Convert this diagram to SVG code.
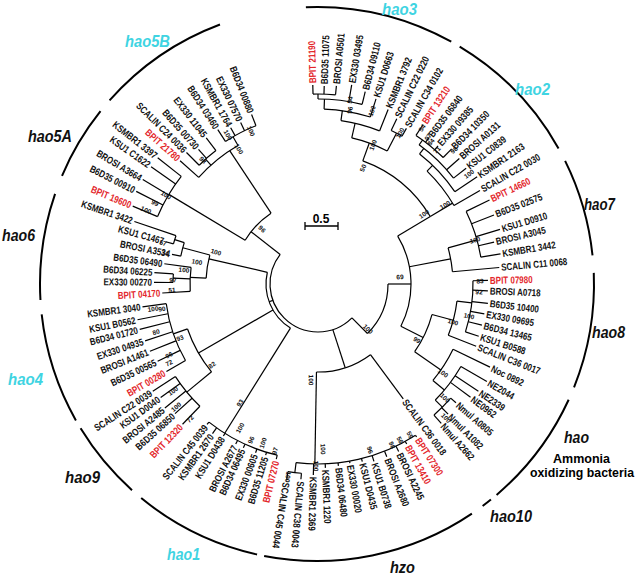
<svg xmlns="http://www.w3.org/2000/svg" width="637" height="578" viewBox="0 0 637 578">
<style>
.t{font-family:"Liberation Sans",Arial,sans-serif;font-size:10px;font-weight:bold;fill:#111}
.r{fill:#e3262b}
.e{text-anchor:end}
.bs{font-family:"Liberation Sans",Arial,sans-serif;font-size:6.5px;font-weight:bold;fill:#111;text-anchor:middle}
.cl{font-family:"Liberation Sans",Arial,sans-serif;font-weight:bold;font-style:italic;font-size:17px;fill:#111}
.cy{fill:#3fd4e2}
.br line,.br circle{fill:none;stroke:#000;stroke-width:1.2}
.ca circle{fill:none;stroke:#000;stroke-width:2}
</style>
<rect width="637" height="578" fill="#fff"/>
<g id="connectors" class="br" transform="translate(318,284)">
<circle r="48" pathLength="360" stroke-dasharray="173 400" transform="rotate(45)"/>
<circle r="52" pathLength="360" stroke-dasharray="71 400" transform="rotate(122)"/>
<line x1="48" x2="52" transform="rotate(160)"/>
<line x1="48" x2="70" transform="rotate(45)"/>
<circle r="70" pathLength="360" stroke-dasharray="45 400" transform="rotate(0)"/>
<line x1="70" x2="93" transform="rotate(0)"/>
<circle r="93" pathLength="360" stroke-dasharray="58 400" transform="rotate(329)"/>
<line x1="93" x2="131" transform="rotate(329)"/>
<circle r="131" pathLength="360" stroke-dasharray="39 400" transform="rotate(290)"/>
<line x1="131" x2="150" transform="rotate(290)"/>
<circle r="150" pathLength="360" stroke-dasharray="14.5 400" transform="rotate(283)"/>
<line x1="150" x2="170" transform="rotate(297.5)"/>
<circle r="170" pathLength="360" stroke-dasharray="4.1 400" transform="rotate(295.5)"/>
<line x1="170" x2="183" transform="rotate(295.5)"/><line x1="170" x2="179" transform="rotate(299.6)"/>
<line x1="150" x2="165" transform="rotate(283)"/>
<circle r="165" pathLength="360" stroke-dasharray="13.9 400" transform="rotate(278)"/>
<line x1="165" x2="188" transform="rotate(291.9)"/>
<line x1="165" x2="175" transform="rotate(278)"/>
<circle r="175" pathLength="360" stroke-dasharray="15.4 400" transform="rotate(272)"/>
<line x1="175" x2="194" transform="rotate(287.4)"/>
<line x1="175" x2="185" transform="rotate(272)"/>
<circle r="185" pathLength="360" stroke-dasharray="13.8 400" transform="rotate(270)"/>
<line x1="185" x2="198" transform="rotate(283.8)"/><line x1="185" x2="202" transform="rotate(279.6)"/>
<line x1="185" x2="190" transform="rotate(270)"/>
<circle r="190" pathLength="360" stroke-dasharray="6.8 400" transform="rotate(268.5)"/>
<line x1="190" x2="199" transform="rotate(268.5)"/><line x1="190" x2="198" transform="rotate(271.8)"/><line x1="190" x2="199" transform="rotate(275.3)"/>
<line x1="131" x2="157" transform="rotate(329)"/>
<circle r="157" pathLength="360" stroke-dasharray="16 400" transform="rotate(314)"/>
<line x1="157" x2="187" transform="rotate(330)"/>
<line x1="157" x2="165" transform="rotate(314)"/>
<circle r="165" pathLength="360" stroke-dasharray="18 400" transform="rotate(308)"/>
<line x1="165" x2="192" transform="rotate(326)"/>
<line x1="165" x2="172" transform="rotate(308)"/>
<circle r="172" pathLength="360" stroke-dasharray="16 400" transform="rotate(306)"/>
<line x1="172" x2="188" transform="rotate(322)"/><line x1="172" x2="189" transform="rotate(318.4)"/>
<line x1="172" x2="178" transform="rotate(306)"/>
<circle r="178" pathLength="360" stroke-dasharray="11.3 400" transform="rotate(303.4)"/>
<line x1="178" x2="191" transform="rotate(303.4)"/><line x1="178" x2="184" transform="rotate(307.2)"/><line x1="178" x2="183" transform="rotate(311)"/><line x1="178" x2="190" transform="rotate(314.7)"/>
<line x1="93" x2="135" transform="rotate(349.3)"/>
<circle r="135" pathLength="360" stroke-dasharray="10.3 400" transform="rotate(344.5)"/>
<line x1="135" x2="182" transform="rotate(354.8)"/>
<line x1="135" x2="165" transform="rotate(344.5)"/>
<circle r="165" pathLength="360" stroke-dasharray="16.7 400" transform="rotate(333.9)"/>
<line x1="165" x2="191" transform="rotate(333.9)"/><line x1="165" x2="189" transform="rotate(338.6)"/><line x1="165" x2="190" transform="rotate(343.3)"/><line x1="165" x2="181" transform="rotate(346.6)"/><line x1="165" x2="185" transform="rotate(350.6)"/>
<line x1="93" x2="118" transform="rotate(27)"/>
<circle r="118" pathLength="360" stroke-dasharray="20 400" transform="rotate(15)"/>
<line x1="118" x2="140" transform="rotate(15)"/>
<circle r="140" pathLength="360" stroke-dasharray="14.5 400" transform="rotate(7)"/>
<line x1="140" x2="170" transform="rotate(21.5)"/>
<line x1="140" x2="155" transform="rotate(7)"/>
<circle r="155" pathLength="360" stroke-dasharray="19.2 400" transform="rotate(358.8)"/>
<line x1="155" x2="170" transform="rotate(358.8)"/><line x1="155" x2="170" transform="rotate(2.3)"/><line x1="155" x2="171" transform="rotate(6.5)"/><line x1="155" x2="169" transform="rotate(10.2)"/><line x1="155" x2="169" transform="rotate(14.1)"/><line x1="155" x2="169" transform="rotate(18)"/>
<line x1="118" x2="150" transform="rotate(35)"/>
<circle r="150" pathLength="360" stroke-dasharray="14.2 400" transform="rotate(25.8)"/>
<line x1="150" x2="191" transform="rotate(25.8)"/>
<line x1="150" x2="165" transform="rotate(40)"/>
<circle r="165" pathLength="360" stroke-dasharray="14.7 400" transform="rotate(30)"/>
<line x1="165" x2="195" transform="rotate(30)"/><line x1="165" x2="193" transform="rotate(33.8)"/><line x1="165" x2="190" transform="rotate(36.6)"/>
<line x1="165" x2="175" transform="rotate(44.7)"/>
<circle r="175" pathLength="360" stroke-dasharray="7.8 400" transform="rotate(40.7)"/>
<line x1="175" x2="182" transform="rotate(40.7)"/><line x1="175" x2="184" transform="rotate(45)"/><line x1="175" x2="186" transform="rotate(48.5)"/>
<line x1="48" x2="88" transform="rotate(72)"/>
<circle r="88" pathLength="360" stroke-dasharray="37.6 400" transform="rotate(53.4)"/>
<line x1="88" x2="143" transform="rotate(53.4)"/>
<line x1="88" x2="180" transform="rotate(91)"/>
<circle r="180" pathLength="360" stroke-dasharray="39.8 400" transform="rotate(57.2)"/>
<line x1="180" x2="182" transform="rotate(57.2)"/><line x1="180" x2="183" transform="rotate(61)"/><line x1="180" x2="186" transform="rotate(64.3)"/><line x1="180" x2="186" transform="rotate(68.3)"/><line x1="180" x2="186" transform="rotate(72.5)"/><line x1="180" x2="183" transform="rotate(76)"/><line x1="180" x2="182" transform="rotate(79.9)"/><line x1="180" x2="183" transform="rotate(83.6)"/><line x1="180" x2="184" transform="rotate(87.7)"/><line x1="180" x2="191" transform="rotate(91.4)"/>
<line x1="180" x2="190" transform="rotate(97)"/>
<circle r="190" pathLength="360" stroke-dasharray="4.1 400" transform="rotate(95)"/>
<line x1="190" x2="196" transform="rotate(95)"/><line x1="190" x2="199" transform="rotate(99.1)"/>
<line x1="52" x2="176" transform="rotate(122)"/>
<circle r="176" pathLength="360" stroke-dasharray="24.9 400" transform="rotate(103.4)"/>
<line x1="176" x2="180" transform="rotate(103.4)"/><line x1="176" x2="179" transform="rotate(107)"/><line x1="176" x2="180" transform="rotate(110.3)"/><line x1="176" x2="180" transform="rotate(114.5)"/><line x1="176" x2="180" transform="rotate(117.2)"/><line x1="176" x2="179" transform="rotate(121.9)"/><line x1="176" x2="183" transform="rotate(125.2)"/><line x1="176" x2="179" transform="rotate(128.3)"/>
<line x1="52" x2="138" transform="rotate(150)"/>
<circle r="138" pathLength="360" stroke-dasharray="20.5 400" transform="rotate(140.5)"/>
<line x1="138" x2="170" transform="rotate(140.5)"/>
<circle r="170" pathLength="360" stroke-dasharray="13 400" transform="rotate(134)"/>
<line x1="170" x2="195" transform="rotate(134)"/><line x1="170" x2="193" transform="rotate(137.8)"/><line x1="170" x2="197" transform="rotate(141)"/><line x1="170" x2="194" transform="rotate(144.2)"/><line x1="170" x2="197" transform="rotate(147)"/>
<line x1="138" x2="153" transform="rotate(161)"/>
<circle r="153" pathLength="360" stroke-dasharray="22.6 400" transform="rotate(150)"/>
<line x1="153" x2="175" transform="rotate(150)"/><line x1="153" x2="178" transform="rotate(154.3)"/><line x1="153" x2="181" transform="rotate(158.2)"/><line x1="153" x2="182" transform="rotate(161.8)"/><line x1="153" x2="184" transform="rotate(165.7)"/><line x1="153" x2="184" transform="rotate(168.8)"/><line x1="153" x2="177" transform="rotate(172.6)"/>
<line x1="52" x2="112" transform="rotate(193)"/>
<circle r="112" pathLength="360" stroke-dasharray="12 400" transform="rotate(183)"/>
<line x1="112" x2="140" transform="rotate(195)"/>
<circle r="140" pathLength="360" stroke-dasharray="5.7 400" transform="rotate(191.5)"/>
<line x1="140" x2="149" transform="rotate(191.5)"/>
<line x1="140" x2="150" transform="rotate(197.2)"/>
<circle r="150" pathLength="360" stroke-dasharray="3.3 400" transform="rotate(195.5)"/>
<line x1="150" x2="158" transform="rotate(195.5)"/><line x1="150" x2="194" transform="rotate(198.8)"/>
<line x1="112" x2="128" transform="rotate(183)"/>
<circle r="128" pathLength="360" stroke-dasharray="10.8 400" transform="rotate(176.7)"/>
<line x1="128" x2="156" transform="rotate(176.7)"/><line x1="128" x2="155" transform="rotate(187.5)"/>
<line x1="128" x2="145" transform="rotate(182.3)"/>
<circle r="145" pathLength="360" stroke-dasharray="3.4 400" transform="rotate(180.6)"/>
<line x1="145" x2="164" transform="rotate(180.6)"/><line x1="145" x2="164" transform="rotate(184)"/>
<line x1="48" x2="85" transform="rotate(218)"/>
<circle r="85" pathLength="360" stroke-dasharray="25.5 400" transform="rotate(211)"/>
<line x1="85" x2="174" transform="rotate(211)"/>
<circle r="174" pathLength="360" stroke-dasharray="15.4 400" transform="rotate(202.8)"/>
<line x1="174" x2="201" transform="rotate(202.8)"/><line x1="174" x2="204" transform="rotate(207)"/><line x1="174" x2="204" transform="rotate(210.8)"/><line x1="174" x2="204" transform="rotate(215.1)"/><line x1="174" x2="204" transform="rotate(218.2)"/>
<line x1="85" x2="160" transform="rotate(236.5)"/>
<circle r="160" pathLength="360" stroke-dasharray="18.2 400" transform="rotate(221.8)"/>
<line x1="160" x2="185" transform="rotate(221.8)"/>
<line x1="160" x2="168" transform="rotate(228)"/>
<circle r="168" pathLength="360" stroke-dasharray="7.6 400" transform="rotate(225)"/>
<line x1="168" x2="186" transform="rotate(225)"/><line x1="168" x2="180" transform="rotate(228.4)"/><line x1="168" x2="184" transform="rotate(232.6)"/>
<line x1="160" x2="170" transform="rotate(240)"/>
<circle r="170" pathLength="360" stroke-dasharray="11.6 400" transform="rotate(237)"/>
<line x1="170" x2="184" transform="rotate(237)"/><line x1="170" x2="179" transform="rotate(240.8)"/><line x1="170" x2="179" transform="rotate(244.4)"/><line x1="170" x2="182" transform="rotate(248.6)"/>
</g>
<g id="bootstrap">
<text class="bs" dy="2.3" transform="translate(262,229) rotate(44.5)">96</text>
<text class="bs" dy="2.3" transform="translate(216,252) rotate(16.4)">100</text>
<text class="bs" dy="2.3" transform="translate(166,195) rotate(30)">100</text>
<text class="bs" dy="2.3" transform="translate(146,210) rotate(23.3)">100</text>
<text class="bs" dy="2.3" transform="translate(155,203) rotate(26.4)">99</text>
<text class="bs" dy="2.3" transform="translate(400,277) rotate(-4.9)">69</text>
<text class="bs" dy="2.3" transform="translate(368,329) rotate(42)">100</text>
<text class="bs" dy="2.3" transform="translate(417,340) rotate(29.5)">99</text>
<text class="bs" dy="2.3" transform="translate(424,214) rotate(-33.4)">100</text>
<text class="bs" dy="2.3" transform="translate(445,205) rotate(-31.9)">100</text>
<text class="bs" dy="2.3" transform="translate(453,322) rotate(15.7)">100</text>
<text class="bs" dy="2.3" transform="translate(469,316) rotate(12)">100</text>
<text class="bs" dy="2.3" transform="translate(443,373) rotate(35.5)">100</text>
<text class="bs" dy="2.3" transform="translate(445,398) rotate(41.9)">100</text>
<text class="bs" dy="2.3" transform="translate(446,418) rotate(46.3)">100</text>
<text class="bs" dy="2.3" transform="translate(475,240) rotate(-15.7)">100</text>
<text class="bs" dy="2.3" transform="translate(480,281) rotate(-1)">83</text>
<text class="bs" dy="2.3" transform="translate(479,292) rotate(2.8)">92</text>
<text class="bs" dy="2.3" transform="translate(180,338) rotate(-21.4)">93</text>
<text class="bs" dy="2.3" transform="translate(162,309) rotate(-9.1)">90</text>
<text class="bs" dy="2.3" transform="translate(212,365) rotate(-37.4)">82</text>
<text class="bs" dy="2.3" transform="translate(153,309) rotate(-8.6)">100</text>
<text class="bs" dy="2.3" transform="translate(156,332) rotate(-16.5)">80</text>
<text class="bs" dy="2.3" transform="translate(169,355) rotate(-25.5)">96</text>
<text class="bs" dy="2.3" transform="translate(169,363) rotate(-28)">72</text>
<text class="bs" dy="2.3" transform="translate(173,391) rotate(-36.4)">100</text>
<text class="bs" dy="2.3" transform="translate(176,407) rotate(-41)">100</text>
<text class="bs" dy="2.3" transform="translate(190,419) rotate(-46.5)">72</text>
<text class="bs" dy="2.3" transform="translate(240,403) rotate(-56.8)">93</text>
<text class="bs" dy="2.3" transform="translate(240,428) rotate(-61.6)">100</text>
<text class="bs" dy="2.3" transform="translate(251,440) rotate(-66.8)">96</text>
<text class="bs" dy="2.3" transform="translate(263,443) rotate(-70.9)">100</text>
<text class="bs" dy="2.3" transform="translate(275,451) rotate(-75.6)">97</text>
<text class="bs" dy="2.3" transform="translate(288,477) rotate(98.8)">100</text>
<text class="bs" dy="2.3" transform="translate(316,466) rotate(90.6)">100</text>
<text class="bs" dy="2.3" transform="translate(323,449) rotate(88.3)">100</text>
<text class="bs" dy="2.3" transform="translate(311,380) rotate(90.6)">100</text>
<text class="bs" dy="2.3" transform="translate(370,450) rotate(72.6)">96</text>
<text class="bs" dy="2.3" transform="translate(392,445) rotate(65.3)">98</text>
<text class="bs" dy="2.3" transform="translate(400,440) rotate(62.3)">56</text>
<text class="bs" dy="2.3" transform="translate(410,435) rotate(58.6)">59</text>
<text class="bs" dy="2.3" transform="translate(363,168) rotate(-68.8)">50</text>
<text class="bs" dy="2.3" transform="translate(373,145) rotate(-68.4)">100</text>
<text class="bs" dy="2.3" transform="translate(350,100) rotate(-80.1)">54</text>
<text class="bs" dy="2.3" transform="translate(350,110) rotate(-79.6)">96</text>
<text class="bs" dy="2.3" transform="translate(372,111) rotate(-72.7)">100</text>
<text class="bs" dy="2.3" transform="translate(400,133) rotate(-61.5)">100</text>
<text class="bs" dy="2.3" transform="translate(422,128) rotate(-56.3)">54</text>
<text class="bs" dy="2.3" transform="translate(428,137) rotate(-53.2)">97</text>
<text class="bs" dy="2.3" transform="translate(431,142) rotate(-51.5)">84</text>
<text class="bs" dy="2.3" transform="translate(437,150) rotate(-48.4)">71</text>
<text class="bs" dy="2.3" transform="translate(454,150) rotate(-44.6)">98</text>
<text class="bs" dy="2.3" transform="translate(469,174) rotate(-36.1)">100</text>
<text class="bs" dy="2.3" transform="translate(251,131) rotate(66.4)">100</text>
<text class="bs" dy="2.3" transform="translate(228,135) rotate(58.9)">100</text>
<text class="bs" dy="2.3" transform="translate(239,149) rotate(59.7)">100</text>
<text class="bs" dy="2.3" transform="translate(203,160) rotate(47.1)">98</text>
<text class="bs" dy="2.3" transform="translate(173,280) rotate(1.6)">97</text>
<text class="bs" dy="2.3" transform="translate(172,290) rotate(-2.4)">51</text>
<text class="bs" dy="2.3" transform="translate(165,253) rotate(11.5)">34</text>
<text class="bs" dy="2.3" transform="translate(163,243) rotate(15.9)">57</text>
<text class="bs" dy="2.3" transform="translate(184,270) rotate(6)">100</text>
<text class="bs" dy="2.3" transform="translate(197,262) rotate(10.3)">100</text>
</g>
<g id="clade-arcs" class="ca" transform="translate(317,284)">
<circle r="277" pathLength="360" stroke-dasharray="28 400" transform="rotate(221.5)"/>
<circle r="277" pathLength="360" stroke-dasharray="15.6 400" transform="rotate(203)"/>
<circle r="277" pathLength="360" stroke-dasharray="22.3 400" transform="rotate(176.7)"/>
<circle r="277" pathLength="360" stroke-dasharray="23.2 400" transform="rotate(150.5)"/>
<circle r="277" pathLength="360" stroke-dasharray="16.7 400" transform="rotate(131.9)"/>
<circle r="277" pathLength="360" stroke-dasharray="26.9 400" transform="rotate(102.5)"/>
<circle r="277" pathLength="360" stroke-dasharray="45 400" transform="rotate(56)"/>
<circle r="277" pathLength="360" stroke-dasharray="2.2 400" transform="rotate(51.1)"/>
<circle r="277" pathLength="360" stroke-dasharray="24.9 400" transform="rotate(24.7)"/>
<circle r="277" pathLength="360" stroke-dasharray="24.2 400" transform="rotate(357.7)"/>
<circle r="277" pathLength="360" stroke-dasharray="20.5 400" transform="rotate(333.6)"/>
<circle r="277" pathLength="360" stroke-dasharray="29.7 400" transform="rotate(301)"/>
<circle r="277" pathLength="360" stroke-dasharray="31.3 400" transform="rotate(267.7)"/>
</g>
<g id="leaves" transform="translate(318,284)">
<g id="n1"><text class="t r" dy="3.5" transform="rotate(268.5) translate(201) scale(.8,1)">BPIT 21190</text></g>
<g id="n2"><text class="t" dy="3.5" transform="rotate(271.8) translate(200) scale(.8,1)">B6D35 11075</text></g>
<g id="n3"><text class="t" dy="3.5" transform="rotate(275.3) translate(201) scale(.8,1)">BROSI A0501</text></g>
<g id="n4"><text class="t" dy="3.5" transform="rotate(279.6) translate(204) scale(.8,1)">EX330 03495</text></g>
<g id="n5"><text class="t" dy="3.5" transform="rotate(283.8) translate(200) scale(.8,1)">B6D34 09110</text></g>
<g id="n6"><text class="t" dy="3.5" transform="rotate(287.4) translate(196) scale(.8,1)">KSU1 D0663</text></g>
<g id="n7"><text class="t" dy="3.5" transform="rotate(291.9) translate(190) scale(.8,1)">KSMBR1 3792</text></g>
<g id="n8"><text class="t" dy="3.5" transform="rotate(295.5) translate(185) scale(.8,1)">SCALIN C22 0220</text></g>
<g id="n9"><text class="t" dy="3.5" transform="rotate(299.6) translate(181) scale(.8,1)">SCALIN C34 0102</text></g>
<g id="n10"><text class="t r" dy="3.5" transform="rotate(303.4) translate(193) scale(.8,1)">BPIT 13210</text></g>
<g id="n11"><text class="t" dy="3.5" transform="rotate(307.2) translate(186) scale(.8,1)">B6D35 06840</text></g>
<g id="n12"><text class="t" dy="3.5" transform="rotate(311) translate(185) scale(.8,1)">EX330 09385</text></g>
<g id="n13"><text class="t" dy="3.5" transform="rotate(314.7) translate(192) scale(.8,1)">B6D34 10350</text></g>
<g id="n14"><text class="t" dy="3.5" transform="rotate(318.4) translate(191) scale(.8,1)">BROSI A0131</text></g>
<g id="n15"><text class="t" dy="3.5" transform="rotate(322) translate(190) scale(.8,1)">KSU1 C0839</text></g>
<g id="n16"><text class="t" dy="3.5" transform="rotate(326) translate(194) scale(.8,1)">KSMBR1 2163</text></g>
<g id="n17"><text class="t" dy="3.5" transform="rotate(330) translate(189) scale(.8,1)">SCALIN C22 0030</text></g>
<g id="n18"><text class="t r" dy="3.5" transform="rotate(333.9) translate(193) scale(.8,1)">BPIT 14660</text></g>
<g id="n19"><text class="t" dy="3.5" transform="rotate(338.6) translate(191) scale(.8,1)">B6D35 02575</text></g>
<g id="n20"><text class="t" dy="3.5" transform="rotate(343.3) translate(192) scale(.8,1)">KSU1 D0910</text></g>
<g id="n21"><text class="t" dy="3.5" transform="rotate(346.6) translate(183) scale(.8,1)">BROSI A3045</text></g>
<g id="n22"><text class="t" dy="3.5" transform="rotate(350.6) translate(187) scale(.8,1)">KSMBR1 3442</text></g>
<g id="n23"><text class="t" dy="3.5" transform="rotate(354.8) translate(184) scale(.8,1)">SCALIN C11 0068</text></g>
<g id="n24"><text class="t r" dy="3.5" transform="rotate(358.8) translate(172) scale(.8,1)">BPIT 07980</text></g>
<g id="n25"><text class="t" dy="3.5" transform="rotate(2.3) translate(172) scale(.8,1)">BROSI A0718</text></g>
<g id="n26"><text class="t" dy="3.5" transform="rotate(6.5) translate(173) scale(.8,1)">B6D35 10400</text></g>
<g id="n27"><text class="t" dy="3.5" transform="rotate(10.2) translate(171) scale(.8,1)">EX330 09695</text></g>
<g id="n28"><text class="t" dy="3.5" transform="rotate(14.1) translate(171) scale(.8,1)">B6D34 13465</text></g>
<g id="n29"><text class="t" dy="3.5" transform="rotate(18) translate(171) scale(.8,1)">KSU1 B0588</text></g>
<g id="n30"><text class="t" dy="3.5" transform="rotate(21.5) translate(172) scale(.8,1)">SCALIN C36 0017</text></g>
<g id="n31"><text class="t" dy="3.5" transform="rotate(25.8) translate(193) scale(.8,1)">Noc 0892</text></g>
<g id="n32"><text class="t" dy="3.5" transform="rotate(30) translate(197) scale(.8,1)">NE2044</text></g>
<g id="n33"><text class="t" dy="3.5" transform="rotate(33.8) translate(195) scale(.8,1)">NE2339</text></g>
<g id="n34"><text class="t" dy="3.5" transform="rotate(36.6) translate(192) scale(.8,1)">NE0962</text></g>
<g id="n35"><text class="t" dy="3.5" transform="rotate(40.7) translate(184) scale(.8,1)">Nmul A0805</text></g>
<g id="n36"><text class="t" dy="3.5" transform="rotate(45) translate(186) scale(.8,1)">Nmul A1082</text></g>
<g id="n37"><text class="t" dy="3.5" transform="rotate(48.5) translate(188) scale(.8,1)">Nmul A2662</text></g>
<g id="n38"><text class="t" dy="3.5" transform="rotate(53.4) translate(145) scale(.8,1)">SCALIN C36 0018</text></g>
<g id="n39"><text class="t r" dy="3.5" transform="rotate(57.2) translate(184) scale(.8,1)">BPIT 07300</text></g>
<g id="n40"><text class="t r" dy="3.5" transform="rotate(61) translate(185) scale(.8,1)">BPIT 13410</text></g>
<g id="n41"><text class="t" dy="3.5" transform="rotate(64.3) translate(188) scale(.8,1)">BROSI A2245</text></g>
<g id="n42"><text class="t" dy="3.5" transform="rotate(68.3) translate(188) scale(.8,1)">BROSI A2680</text></g>
<g id="n43"><text class="t" dy="3.5" transform="rotate(72.5) translate(188) scale(.8,1)">KSU1 B0738</text></g>
<g id="n44"><text class="t" dy="3.5" transform="rotate(76) translate(185) scale(.8,1)">KSU1 D0435</text></g>
<g id="n45"><text class="t" dy="3.5" transform="rotate(79.9) translate(184) scale(.8,1)">EX330 00020</text></g>
<g id="n46"><text class="t" dy="3.5" transform="rotate(83.6) translate(185) scale(.8,1)">B6D34 06480</text></g>
<g id="n47"><text class="t" dy="3.5" transform="rotate(87.7) translate(186) scale(.8,1)">KSMBR1 1220</text></g>
<g id="n48"><text class="t" dy="3.5" transform="rotate(91.4) translate(193) scale(.8,1)">KSMBR1 2369</text></g>
<g id="n49"><text class="t" dy="3.5" transform="rotate(95) translate(198) scale(.8,1)">SCALIN C38 0043</text></g>
<g id="n50"><text class="t" dy="3.5" transform="rotate(99.1) translate(201) scale(.8,1)">SCALIN C45 0044</text></g>
<g id="n51"><text class="t r e" dy="3.5" transform="rotate(103.4) translate(182) rotate(180) scale(.8,1)">BPIT 07270</text></g>
<g id="n52"><text class="t e" dy="3.5" transform="rotate(107) translate(181) rotate(180) scale(.8,1)">B6D35 11205</text></g>
<g id="n53"><text class="t e" dy="3.5" transform="rotate(110.3) translate(182) rotate(180) scale(.8,1)">EX330 00605</text></g>
<g id="n54"><text class="t e" dy="3.5" transform="rotate(114.5) translate(182) rotate(180) scale(.8,1)">B6D34 06495</text></g>
<g id="n55"><text class="t e" dy="3.5" transform="rotate(117.2) translate(182) rotate(180) scale(.8,1)">BROSI A2677</text></g>
<g id="n56"><text class="t e" dy="3.5" transform="rotate(121.9) translate(181) rotate(180) scale(.8,1)">KSU1 D0438</text></g>
<g id="n57"><text class="t e" dy="3.5" transform="rotate(125.2) translate(185) rotate(180) scale(.8,1)">KSMBR1 2670</text></g>
<g id="n58"><text class="t e" dy="3.5" transform="rotate(128.3) translate(181) rotate(180) scale(.8,1)">SCALIN C45 0039</text></g>
<g id="n59"><text class="t r e" dy="3.5" transform="rotate(134) translate(197) rotate(180) scale(.8,1)">BPIT 12320</text></g>
<g id="n60"><text class="t e" dy="3.5" transform="rotate(137.8) translate(195) rotate(180) scale(.8,1)">B6D35 06850</text></g>
<g id="n61"><text class="t e" dy="3.5" transform="rotate(141) translate(199) rotate(180) scale(.8,1)">BROSI A2485</text></g>
<g id="n62"><text class="t e" dy="3.5" transform="rotate(144.2) translate(196) rotate(180) scale(.8,1)">KSU1 D0040</text></g>
<g id="n63"><text class="t e" dy="3.5" transform="rotate(147) translate(199) rotate(180) scale(.8,1)">SCALIN C22 0039</text></g>
<g id="n64"><text class="t r e" dy="3.5" transform="rotate(150) translate(177) rotate(180) scale(.8,1)">BPIT 00280</text></g>
<g id="n65"><text class="t e" dy="3.5" transform="rotate(154.3) translate(180) rotate(180) scale(.8,1)">B6D35 00565</text></g>
<g id="n66"><text class="t e" dy="3.5" transform="rotate(158.2) translate(183) rotate(180) scale(.8,1)">BROSI A1461</text></g>
<g id="n67"><text class="t e" dy="3.5" transform="rotate(161.8) translate(184) rotate(180) scale(.8,1)">EX330 04935</text></g>
<g id="n68"><text class="t e" dy="3.5" transform="rotate(165.7) translate(186) rotate(180) scale(.8,1)">B6D34 01720</text></g>
<g id="n69"><text class="t e" dy="3.5" transform="rotate(168.8) translate(186) rotate(180) scale(.8,1)">KSU1 B0562</text></g>
<g id="n70"><text class="t e" dy="3.5" transform="rotate(172.6) translate(179) rotate(180) scale(.8,1)">KSMBR1 3040</text></g>
<g id="n71"><text class="t r e" dy="3.5" transform="rotate(176.7) translate(158) rotate(180) scale(.8,1)">BPIT 04170</text></g>
<g id="n72"><text class="t e" dy="3.5" transform="rotate(180.6) translate(166) rotate(180) scale(.8,1)">EX330 00270</text></g>
<g id="n73"><text class="t e" dy="3.5" transform="rotate(184) translate(166) rotate(180) scale(.8,1)">B6D34 06225</text></g>
<g id="n74"><text class="t e" dy="3.5" transform="rotate(187.5) translate(157) rotate(180) scale(.8,1)">B6D35 06490</text></g>
<g id="n75"><text class="t e" dy="3.5" transform="rotate(191.5) translate(151) rotate(180) scale(.8,1)">BROSI A3534</text></g>
<g id="n76"><text class="t e" dy="3.5" transform="rotate(195.5) translate(160) rotate(180) scale(.8,1)">KSU1 C1467</text></g>
<g id="n77"><text class="t e" dy="3.5" transform="rotate(198.8) translate(196) rotate(180) scale(.8,1)">KSMBR1 3422</text></g>
<g id="n78"><text class="t r e" dy="3.5" transform="rotate(202.8) translate(203) rotate(180) scale(.8,1)">BPIT 19600</text></g>
<g id="n79"><text class="t e" dy="3.5" transform="rotate(207) translate(206) rotate(180) scale(.8,1)">B6D35 00910</text></g>
<g id="n80"><text class="t e" dy="3.5" transform="rotate(210.8) translate(206) rotate(180) scale(.8,1)">BROSI A3664</text></g>
<g id="n81"><text class="t e" dy="3.5" transform="rotate(215.1) translate(206) rotate(180) scale(.8,1)">KSU1 C1622</text></g>
<g id="n82"><text class="t e" dy="3.5" transform="rotate(218.2) translate(206) rotate(180) scale(.8,1)">KSMBR1 3397</text></g>
<g id="n83"><text class="t r e" dy="3.5" transform="rotate(221.8) translate(187) rotate(180) scale(.8,1)">BPIT 21780</text></g>
<g id="n84"><text class="t e" dy="3.5" transform="rotate(225) translate(188) rotate(180) scale(.8,1)">SCALIN C24 0036</text></g>
<g id="n85"><text class="t e" dy="3.5" transform="rotate(228.4) translate(182) rotate(180) scale(.8,1)">B6D35 00730</text></g>
<g id="n86"><text class="t e" dy="3.5" transform="rotate(232.6) translate(186) rotate(180) scale(.8,1)">EX330 11045</text></g>
<g id="n87"><text class="t e" dy="3.5" transform="rotate(237) translate(186) rotate(180) scale(.8,1)">B6D34 03460</text></g>
<g id="n88"><text class="t e" dy="3.5" transform="rotate(240.8) translate(181) rotate(180) scale(.8,1)">KSMBR1 1764</text></g>
<g id="n89"><text class="t e" dy="3.5" transform="rotate(244.4) translate(181) rotate(180) scale(.8,1)">EX330 07570</text></g>
<g id="n90"><text class="t e" dy="3.5" transform="rotate(248.6) translate(184) rotate(180) scale(.8,1)">B6D34 00880</text></g>
</g>
<g id="clade-labels">
<text class="cl cy" x="125" y="47" textLength="45" lengthAdjust="spacingAndGlyphs">hao5B</text>
<text class="cl" x="28" y="142" textLength="44" lengthAdjust="spacingAndGlyphs">hao5A</text>
<text class="cl" x="2" y="241" textLength="33" lengthAdjust="spacingAndGlyphs">hao6</text>
<text class="cl cy" x="8" y="385" textLength="35" lengthAdjust="spacingAndGlyphs">hao4</text>
<text class="cl" x="65" y="483" textLength="35" lengthAdjust="spacingAndGlyphs">hao9</text>
<text class="cl cy" x="167" y="560" textLength="33" lengthAdjust="spacingAndGlyphs">hao1</text>
<text class="cl" x="390" y="573" textLength="25" lengthAdjust="spacingAndGlyphs">hzo</text>
<text class="cl" x="490" y="522" textLength="42" lengthAdjust="spacingAndGlyphs">hao10</text>
<text class="cl" x="564" y="443" textLength="25" lengthAdjust="spacingAndGlyphs">hao</text>
<text x="553" y="463" textLength="57" lengthAdjust="spacingAndGlyphs" style="font-family:'Liberation Sans',Arial,sans-serif;font-weight:bold;font-size:12px">Ammonia</text>
<text x="530" y="477" textLength="104" lengthAdjust="spacingAndGlyphs" style="font-family:'Liberation Sans',Arial,sans-serif;font-weight:bold;font-size:12px">oxidizing bacteria</text>
<text class="cl" x="584" y="210" textLength="31" lengthAdjust="spacingAndGlyphs">hao7</text>
<text class="cl" x="592" y="338" textLength="33" lengthAdjust="spacingAndGlyphs">hao8</text>
<text class="cl cy" x="515" y="95" textLength="35" lengthAdjust="spacingAndGlyphs">hao2</text>
<text class="cl cy" x="382" y="15" textLength="35" lengthAdjust="spacingAndGlyphs">hao3</text>
</g>
<g id="scale-bar">
<path d="M305 226H338M305 222V230M338 222V230" fill="none" stroke="#000" stroke-width="1.3"/>
<text x="321" y="223" text-anchor="middle" style="font-family:'Liberation Sans',Arial,sans-serif;font-weight:bold;font-size:12px">0.5</text>
</g>
</svg>
